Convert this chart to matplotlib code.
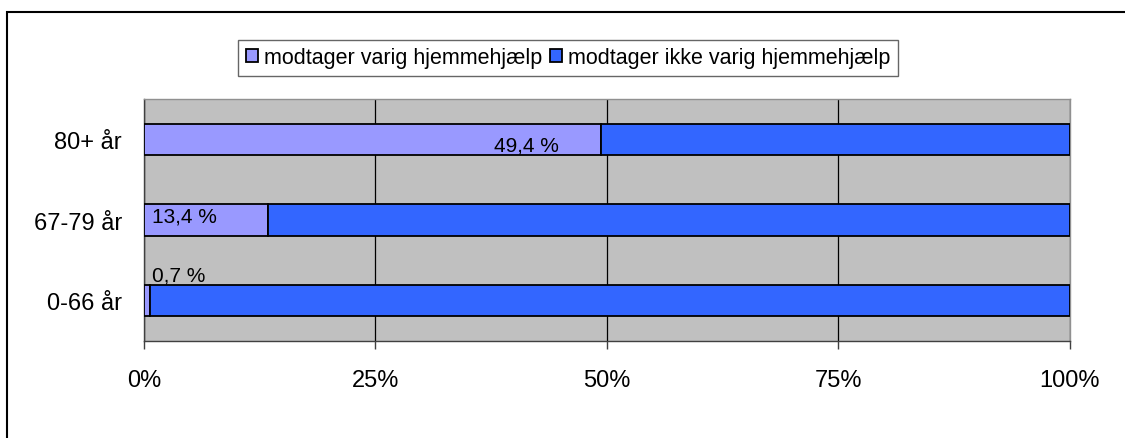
import matplotlib
matplotlib.use("Agg")
import matplotlib.pyplot as plt
from matplotlib.patches import Rectangle

plt.rcParams['font.family'] = ['Liberation Sans', 'DejaVu Sans']

categories = ["0-66 år", "67-79 år", "80+ år"]
varig = [0.7, 13.4, 49.4]
ikke_varig = [99.3, 86.6, 50.6]
label_varig = "modtager varig hjemmehjælp"
label_ikke = "modtager ikke varig hjemmehjælp"
xticks = [0, 25, 50, 75, 100]
xticklabels = ["0%", "25%", "50%", "75%", "100%"]
value_labels = ["0,7 %", "13,4 %", "49,4 %"]

fig = plt.figure(figsize=(11.25, 4.39), dpi=100)
ax = fig.add_axes([0.128, 0.221, 0.823, 0.551])
ax.set_facecolor('#C0C0C0')

y = list(range(len(categories)))
b1 = ax.barh(y, varig, height=0.39, color='#9999FF', edgecolor='black', linewidth=1.3,
             label=label_varig, zorder=3)
b2 = ax.barh(y, ikke_varig, left=varig, height=0.39, color='#3366FF', edgecolor='black',
             linewidth=1.3, label=label_ikke, zorder=3)

# data labels
ax.text(varig[2] - 4.6, y[2] - 0.065, value_labels[2], ha='right', va='center', fontsize=15, zorder=4)
ax.text(0.9, y[1] + 0.05, value_labels[1], ha='left', va='center', fontsize=15, zorder=4)
ax.text(varig[0] + 0.2, y[0] + 0.32, value_labels[0], ha='left', va='center', fontsize=15, zorder=4)

ax.set_xlim(0, 100)
ax.set_ylim(-0.5, 2.5)
ax.set_xticks(xticks)
ax.set_xticklabels(xticklabels, fontsize=17)
ax.set_yticks(y)
ax.set_yticklabels(categories, fontsize=17)
ax.tick_params(axis='y', length=0, pad=16)
ax.tick_params(axis='x', length=6, width=1, color='#404040', pad=14)
ax.xaxis.grid(True, color='black', linewidth=0.9, zorder=1)
ax.set_axisbelow(True)
for s in ['top', 'right']:
    ax.spines[s].set_color('#909090')
    ax.spines[s].set_linewidth(1)
for s in ['left', 'bottom']:
    ax.spines[s].set_color('#404040')
    ax.spines[s].set_linewidth(1)

leg = fig.legend(handles=[b1, b2], loc='center', bbox_to_anchor=(0.505, 0.866), ncol=2,
                 fontsize=15.5, frameon=True, fancybox=False, edgecolor='#404040',
                 handlelength=0.55, handleheight=0.55, handletextpad=0.3, columnspacing=0.35,
                 borderpad=0.35, borderaxespad=0)
leg.get_frame().set_linewidth(1)

# outer chart border
fig.patches.append(Rectangle((7 / 1125, -0.1), 1.2, (439 - 13) / 439 + 0.1, transform=fig.transFigure,
                             fill=False, edgecolor='black', linewidth=1.5))

fig.savefig('out.png', dpi=100)
